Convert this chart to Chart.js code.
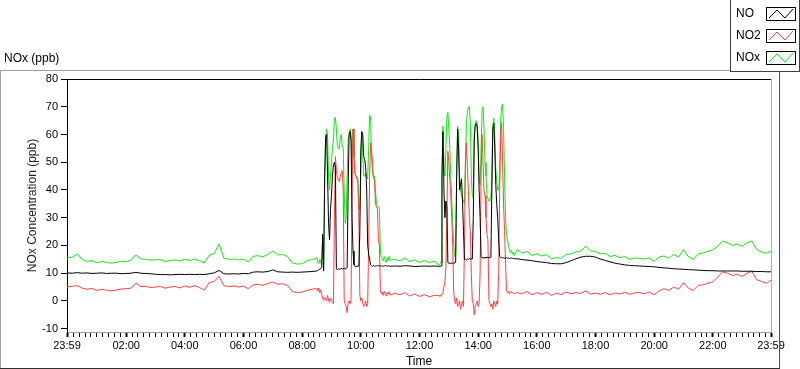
<!DOCTYPE html>
<html>
<head>
<meta charset="utf-8">
<script src="https://cdn.jsdelivr.net/npm/chart.js@4"></script>
<style>
  html, body { margin: 0; padding: 0; background: #fff; }
  #wrap { width: 800px; height: 369px; }
</style>
</head>
<body>
<div id="wrap"><canvas id="myChart" width="800" height="369"></canvas></div>
<script>
// Tiempo en minutos desde medianoche (-1 = 23:59 del día anterior)
const tiempoA = [-1,10,20,30,40,50,60,70,80,90,100,110,120,130,140,150,160,170,180,190,
  200,210,220,230,240,250,260,270,280,290,300,310,320,330,340,350,360,370,380,390,
  400,410,420,430,440,450,460,470,480,490,500];
const tiempoB = [510,512,514,516,518,520,522,524,526,528,530,532,534,536,538,540,542,544,546,548,
  550,552,554,556,558,560,562,564,566,568,570,572,574,576,578,580,582,584,586,588,
  590,592,594,596,598,600,602,604,606,608,610,612,614,616,618,620,622,624,626,628,
  630,632,634,636,638,640,642,644,646,648,650,652,654,656,658,660];
const tiempoC = [670,680,690,700,710,720,730,740,750];
const tiempoD = [760,762,764,766,768,770,772,774,776,778,780,782,784,786,788,790,792,794,796,798,
  800,802,804,806,808,810,812,814,816,818,820,822,824,826,828,830,832,834,836,838,
  840,842,844,846,848,850,852,854,856,858,860,862,864,866,868,870,872,874,876,878,
  880,882,884,886,888,890,892,894,896,898,900,902,904,906,908,910,912,914];
const tiempoE = [920,930,940,950,960,970,980,990,1000,1010,1020,1030,1040,1050,1060,1070,1080,1090,1100,1110,
  1120,1130,1140,1150,1160,1170,1180,1190,1200,1210,1220,1230,1240,1250,1260,1270,1280,1290,1300,1310,
  1320,1330,1340,1350,1360,1370,1380,1390,1400,1410,1420,1430,1439];

// NO (ppb)
const noA = [10.1,10.0,10.2,10.0,10.1,9.9,10.0,10.1,9.9,10.0,
  10.0,9.8,9.9,10.0,10.3,10.0,9.9,9.8,9.6,9.5,
  9.5,9.4,9.5,9.6,9.5,9.6,9.5,9.6,9.5,9.8,
  10.1,11.0,9.8,9.7,9.8,9.7,9.9,9.8,10.4,10.5,
  10.4,10.6,11.2,10.5,10.4,10.3,10.4,10.3,10.4,10.5,10.6];
const noB = [10.8,11.0,11.2,11.5,11.6,12.0,24,10.8,44,59,
  60,45,28,22,33,38,45,49,50,48,
  11.5,11.3,11.6,11.4,11.5,11.7,11.5,11.6,11.8,11.5,
  11.7,12.0,40,60,61,58,30,18,13,12.5,
  12.3,12.4,12.6,12.5,25,55,61,60,52,51,
  48,40,20,17,15,13,12.7,12.5,12.8,12.6,
  12.5,12.7,12.6,12.8,12.6,12.5,12.7,12.6,12.5,12.6,
  12.8,12.6,12.5,12.7,12.6,12.5];
const noC = [12.6,12.5,12.7,12.6,12.4,12.5,12.6,12.5,12.6];
const noD = [12.5,12.5,12.6,45,61,40,30,36,34,14,
  13.5,13.6,13.4,13.7,13.5,13.8,13.6,14,45,62,
  55,40,42,44,36,25,15,15.0,14.8,15.1,
  15.0,15.3,15.0,15.2,15.1,30,58,63,64,63,
  55,40,30,16,15.5,15.6,15.4,15.7,15.5,15.6,
  15.8,15.5,15.6,15.7,40,62,64,55,42,35,
  30,22,16,15.6,15.7,15.5,15.6,15.4,15.5,15.6,
  15.4,15.5,15.3,15.4,15.5,15.3,15.4,15.2];
const noE = [15.2,14.9,14.7,14.5,14.2,14.0,13.8,13.5,13.4,13.4,
  13.8,14.5,15.2,15.8,16.1,16.1,15.8,15.1,14.6,14.1,
  13.6,13.3,13.0,12.8,12.7,12.6,12.5,12.4,12.3,12.1,
  11.9,11.8,11.6,11.5,11.4,11.3,11.2,11.1,11.0,10.9,
  10.9,10.8,10.8,10.8,10.8,10.8,10.7,10.7,10.7,10.6,
  10.6,10.5,10.5];

// NO2 (ppb)
const no2A = [5.0,5.3,5.5,4.6,4.2,4.5,3.8,4.2,3.9,3.6,
  3.9,4.3,4.4,4.6,6.4,5.2,5.3,4.8,5.0,5.2,
  4.6,5.0,5.2,4.7,5.4,4.9,5.5,4.8,3.9,6.6,
  7.0,8.9,5.5,5.2,5.4,5.0,5.3,4.4,5.8,6.0,
  5.6,6.3,6.8,6.0,6.2,5.6,3.4,3.0,3.2,3.8,4.2];
const no2B = [4.5,3.5,4.6,3.0,4.0,2.2,1.0,0.2,1.2,0.5,
  0,2.0,0.3,-0.5,1.0,0.2,-0.6,-1.0,30,52,
  47,44,44,43,45,46,47,40,0.5,-1,
  -2,-4.2,-1,0,-1,0.5,35,62,52,46,
  45,44,43,30,2,0,1,-1,-2,-1,
  0,-2,-1,20,45,57,54,50,44,44,
  35,34,33,22,20,4,2.5,3.2,2.0,3.4,
  2.6,1.8,3.0,2.4,3.3,2.1];
const no2C = [2.8,2.2,3.0,1.8,2.5,1.6,2.3,1.5,2.0];
const no2D = [2.0,1.5,2.2,2.5,3.0,5.0,7.0,12,30,54,
  50,44,38,30,20,3,0,-1,1,-2,
  -1,0,-3,-1,0,-2,20,50,57,48,
  40,30,25,10,0,-1,-5,-2,-1,0,
  -2,-1,10,45,60,50,40,38,30,24,
  22,0.5,-1,-2,-1,-3,0,-1,-2,0,
  -1,10,40,60,64,50,35,25,14,4,
  3,3.5,2.5,3.0,3.5,2.8,3.0,2.6];
const no2E = [3.0,2.6,3.4,2.2,3.0,2.4,3.1,2.0,2.8,2.3,
  3.2,2.6,3.0,2.7,3.6,2.5,2.8,2.4,3.0,2.2,
  2.9,2.5,3.1,2.4,2.9,3.0,2.6,3.2,2.2,3.6,
  4.4,3.8,5.0,4.2,6.6,4.6,3.8,5.6,5.8,6.4,
  6.9,8.6,10.5,10.0,9.2,9.6,8.8,10.0,10.7,7.6,
  7.0,6.4,7.5];

// NOx (ppb)
const noxA = [15.5,15.8,17.0,15.0,14.3,14.5,13.8,14.2,13.9,13.6,
  13.9,14.3,14.2,14.7,16.6,15.2,15.0,14.7,14.8,14.9,
  14.2,14.6,14.8,14.4,15.0,14.6,15.1,14.5,13.7,16.5,
  17.0,20.6,15.4,15.0,15.1,14.8,15.0,14.1,16.1,16.3,
  15.9,16.8,18.0,16.6,16.7,16.0,13.7,13.3,13.4,14.5,14.9];
const noxB = [15.5,14.0,13.5,15.0,14.0,13.0,23,13,44,59,
  62,60,45,40,45,50,55,58,66,66,
  62,56,55,55,59,60,56,55,40,28,
  30,45,58,60,62,60,50,62,60,46,
  45,45,44,34,33,45,61,52,45,45,
  46,45,44,55,67,66,52,46,45,45,
  40,35,34,34,33,18,16,15.2,14.4,16.0,
  14.8,13.9,15.5,14.6,16.1,14.7];
const noxC = [15.0,14.4,15.5,14.2,14.8,13.9,14.6,13.8,14.3];
const noxD = [13.0,13.5,14.0,45,63,50,45,55,66,68,
  62,55,45,36,28,20,16,17,45,63,
  60,45,40,38,37,36,35,50,64,68,
  70,70,64,45,38,37,60,64,65,64,
  57,45,42,55,69,70,62,50,45,38,
  37,36,36,37,45,63,66,60,48,43,
  40,40,45,65,70,71,62,45,30,24,
  22,20,18.5,17.5,18.2,16.8,17.6,16.4];
const noxE = [18.5,17.2,17.8,16.4,17.0,16.2,16.6,15.2,15.6,15.4,
  16.7,17.0,17.6,18.0,19.7,18.0,17.8,17.0,17.2,16.0,
  16.4,15.6,16.0,15.0,15.5,15.3,15.1,15.5,14.3,15.8,
  16.2,15.4,16.8,15.8,18.5,15.9,15.0,16.9,17.3,17.9,
  18.4,19.7,21.6,21.0,20.0,20.5,19.7,20.9,21.6,18.5,
  17.6,17.2,18.0];

// Ejes
const ticksX = [-1,120,240,360,480,600,720,840,960,1080,1200,1320,1439];
const etiquetasX = ["23:59","02:00","04:00","06:00","08:00","10:00","12:00","14:00","16:00","18:00","20:00","22:00","23:59"];
const ticksY = [-10,0,10,20,30,40,50,60,70,80];
const pasoMenor = 12; // marcas menores cada 12 min

const tiempo = [].concat(tiempoA, tiempoB, tiempoC, tiempoD, tiempoE);
const serieNO = [].concat(noA, noB, noC, noD, noE);
const serieNO2 = [].concat(no2A, no2B, no2C, no2D, no2E);
const serieNOx = [].concat(noxA, noxB, noxC, noxD, noxE);

const puntos = (serie) => tiempo.map((t, i) => ({ x: t, y: serie[i] }));

const fuente = '"Liberation Sans", Arial, sans-serif';
Chart.defaults.font.family = fuente;
Chart.defaults.color = "#000";

// Marco, título y leyenda al estilo LabVIEW
const marcoPlugin = {
  id: "marco",
  beforeDraw(chart) {
    const ctx = chart.ctx;
    ctx.save();
    ctx.fillStyle = "#fff";
    ctx.fillRect(0, 0, chart.width, chart.height);
    ctx.restore();
  },
  afterDraw(chart) {
    const { ctx, chartArea: a } = chart;
    const linea = (x1, y1, x2, y2, color) => {
      ctx.strokeStyle = color;
      ctx.lineWidth = 1;
      ctx.beginPath();
      ctx.moveTo(x1, y1);
      ctx.lineTo(x2, y2);
      ctx.stroke();
    };
    ctx.save();
    // marco exterior
    linea(0, 70.5, 730, 70.5, "#a0a0a0");
    linea(0.5, 70, 0.5, 369, "#a0a0a0");
    linea(779.5, 72, 779.5, 369, "#505050");
    linea(0, 368.5, 780, 368.5, "#303030");
    // borde del área de trazado
    linea(a.left, a.top + 0.5, a.right + 1, a.top + 0.5, "#000");
    linea(a.right + 0.5, a.top, a.right + 0.5, a.bottom, "#b0b0b0");

    // título
    ctx.fillStyle = "#000";
    ctx.font = "12px " + fuente;
    ctx.textBaseline = "middle";
    ctx.textAlign = "left";
    ctx.fillText("NOx (ppb)", 4, 59);

    // leyenda
    linea(730.5, 0, 730.5, 72, "#404040");
    linea(730, 71.5, 800, 71.5, "#404040");
    linea(799.5, 0, 799.5, 72, "#404040");
    chart.data.datasets.forEach((ds, i) => {
      const y0 = 7 + 22 * i;
      ctx.fillStyle = "#000";
      ctx.fillText(ds.label, 736, y0 + 7);
      ctx.strokeStyle = "#000";
      ctx.lineWidth = 1;
      ctx.strokeRect(766.5, y0 + 0.5, 29, 13);
      ctx.strokeStyle = ds.borderColor;
      ctx.beginPath();
      ctx.moveTo(769, y0 + 11);
      ctx.lineTo(777, y0 + 3);
      ctx.lineTo(785, y0 + 11);
      ctx.lineTo(793, y0 + 2);
      ctx.stroke();
    });
    ctx.restore();
  }
};

const comunes = { borderWidth: 1, pointRadius: 0, tension: 0, fill: false };

new Chart(document.getElementById("myChart").getContext("2d"), {
  type: "line",
  data: {
    datasets: [
      { ...comunes, label: "NO", data: puntos(serieNO), borderColor: "#000000" },
      { ...comunes, label: "NO2", data: puntos(serieNO2), borderColor: "#ff4040" },
      { ...comunes, label: "NOx", data: puntos(serieNOx), borderColor: "#14e614" }
    ]
  },
  options: {
    responsive: false,
    animation: false,
    devicePixelRatio: 1,
    layout: { padding: { top: 79, right: 29, bottom: 0, left: 0 } },
    plugins: {
      legend: { display: false },
      tooltip: { enabled: false },
      title: { display: false }
    },
    scales: {
      x: {
        type: "linear",
        min: -1,
        max: 1439,
        afterBuildTicks: (scale) => {
          const valores = [...ticksX];
          for (let m = pasoMenor; m < 1439; m += pasoMenor) {
            if (m % 120 !== 0) valores.push(m);
          }
          valores.sort((p, q) => p - q);
          scale.ticks = valores.map((v) => ({ value: v }));
        },
        afterFit: (scale) => { scale.height = 37; },
        grid: {
          drawOnChartArea: false,
          drawTicks: true,
          tickLength: 5,
          tickColor: "#000",
          tickWidth: (c) => (c.tick && ticksX.includes(c.tick.value) ? 2 : 1)
        },
        border: { display: true, color: "#a0a0a0" },
        ticks: {
          autoSkip: false,
          maxRotation: 0,
          padding: 2,
          font: { size: 11 },
          callback: (v) => {
            const k = ticksX.indexOf(v);
            return k >= 0 ? etiquetasX[k] : "";
          }
        },
        title: {
          display: true,
          text: "Time",
          font: { size: 12 },
          padding: { top: 0, bottom: 0 }
        }
      },
      y: {
        type: "linear",
        min: -11.2,
        max: 80,
        afterBuildTicks: (scale) => {
          scale.ticks = ticksY.map((v) => ({ value: v }));
        },
        afterFit: (scale) => { scale.width = 67; },
        grid: {
          drawOnChartArea: false,
          drawTicks: true,
          tickLength: 6,
          tickColor: "#000"
        },
        border: { display: true, color: "#000" },
        ticks: { padding: 3, font: { size: 11 } },
        title: {
          display: true,
          text: "NOx Concentration (ppb)",
          color: "#222",
          font: { size: 12 },
          padding: { top: 25, bottom: 0 }
        }
      }
    }
  },
  plugins: [marcoPlugin]
});
</script>
</body>
</html>
